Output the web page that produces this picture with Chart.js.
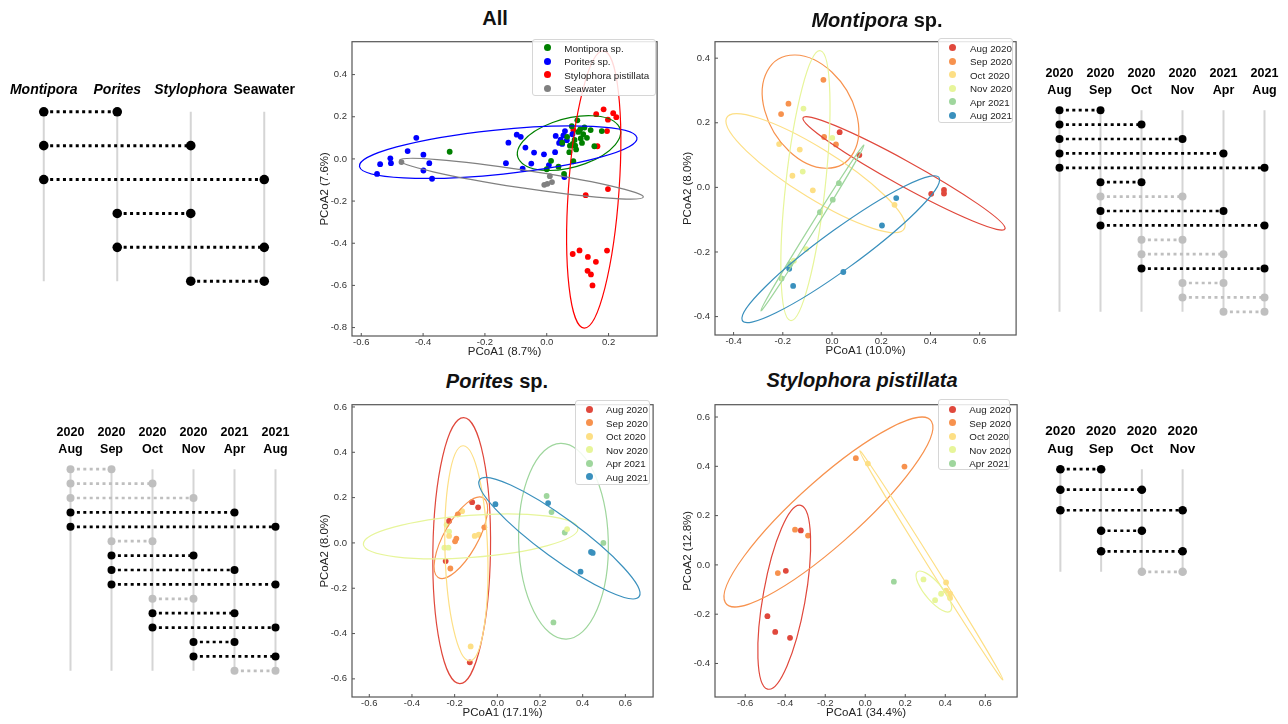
<!DOCTYPE html>
<html>
<head>
<meta charset="utf-8">
<script src="https://cdn.jsdelivr.net/npm/chart.js@4.4.0/dist/chart.umd.min.js"></script>
<style>
  body { margin: 0; background: #fff; width: 1288px; height: 724px; position: relative; overflow: hidden;
         font-family: "Liberation Sans", Arial, sans-serif; }
  canvas { position: absolute; }
  .ttl { position: absolute; font-weight: bold; font-size: 20px; color: #111; transform: translate(-50%, -50%); white-space: nowrap; }
  .leg { position: absolute; border: 1px solid #d6d6d6; border-radius: 3px; background: rgba(255,255,255,0.85); box-sizing: border-box; }
  .leg-dot { position: absolute; width: 7px; height: 7px; border-radius: 50%; }
  .leg-txt { position: absolute; font-size: 9.8px; color: #222; white-space: nowrap; transform: translateY(-50%); }
</style>
</head>
<body>
<canvas id="cAll"></canvas>
<canvas id="cMon"></canvas>
<canvas id="cPor"></canvas>
<canvas id="cSty"></canvas>
<canvas id="pAll"></canvas>
<canvas id="pMon"></canvas>
<canvas id="pPor"></canvas>
<canvas id="pSty"></canvas>

<div class="ttl" style="left:495px;top:18px">All</div>
<div class="ttl" style="left:877px;top:20px"><i>Montipora</i> sp.</div>
<div class="ttl" style="left:497px;top:381px"><i>Porites</i> sp.</div>
<div class="ttl" style="left:862px;top:380px"><i>Stylophora pistillata</i></div>

<script>
const FONT = "'Liberation Sans', Arial, sans-serif";

// ---- "All" PCoA ----
const allGroups = ['Montipora sp.', 'Porites sp.', 'Stylophora pistillata', 'Seawater'];
const allColors = ['#008000', '#0000ff', '#ff0000', '#808080'];
const allMontipora = [[-0.314,0.034],[0.000,-0.049],[0.014,-0.009],[0.038,-0.037],[0.056,-0.071],[0.086,-0.011],
  [0.073,0.032],[0.075,0.063],[0.084,0.071],[0.092,0.063],[0.050,0.077],[0.114,0.076],[0.110,0.097],[0.118,0.117],
  [0.102,0.128],[0.099,0.183],[0.081,0.155],[0.122,0.149],[0.142,0.137],[0.178,0.132],[0.154,0.060],[0.066,0.105],
  [0.095,0.045],[0.130,0.100],[0.108,0.140],[0.090,0.090]];
const allPorites = [[-0.549,-0.071],[-0.539,-0.025],[-0.506,0.003],[-0.504,-0.020],[-0.450,0.037],[-0.422,0.100],
  [-0.399,0.020],[-0.399,-0.055],[-0.380,-0.020],[-0.371,-0.094],[-0.132,-0.020],[-0.124,0.077],[-0.097,0.115],
  [-0.084,0.105],[-0.069,0.054],[-0.078,-0.046],[-0.050,-0.022],[-0.041,0.030],[-0.009,0.022],[0.007,-0.029],
  [0.027,0.032],[0.029,0.109],[0.040,0.076],[0.045,0.091],[0.050,0.071],[0.054,0.112],[0.059,0.132],[0.083,0.117],
  [0.057,-0.086],[0.065,0.089]];
const allStylophora = [[0.160,0.212],[0.184,0.235],[0.215,0.217],[0.225,0.198],[0.198,0.186],[0.195,0.132],
  [0.164,0.060],[0.086,0.137],[0.198,-0.143],[0.126,-0.172],[0.084,-0.451],[0.106,-0.434],[0.133,-0.465],
  [0.159,-0.488],[0.195,-0.435],[0.132,-0.531],[0.143,-0.548],[0.148,-0.600]];
const allSeawater = [[-0.470,-0.015],[0.010,-0.082],[-0.008,-0.123],[0.002,-0.118],[0.017,-0.110]];
// ellipse: centre x, centre y, semi-major, semi-minor, angle (deg)
const allEllipses = [[0.072,0.075,0.180,0.111,28.5],[-0.157,0.032,0.454,0.105,8.7],
  [0.152,-0.145,0.658,0.082,87.3],[-0.082,-0.094,0.404,0.042,-12.5]];
const allXTicks = [-0.6,-0.4,-0.2,0.0,0.2];
const allYTicks = [-0.8,-0.6,-0.4,-0.2,0.0,0.2,0.4];

// ---- sampling months ----
const months = ['Aug 2020','Sep 2020','Oct 2020','Nov 2020','Apr 2021','Aug 2021'];
const monthColors = ['#e0483c','#f7924e','#fddf85','#e7f59a','#9fd69d','#3a90bd'];

const montiporaPts = [
  [[0.031,0.171],[0.111,0.100],[0.403,-0.020],[0.455,-0.008],[0.455,-0.019]],
  [[-0.035,0.333],[-0.177,0.259],[-0.207,0.227],[-0.032,0.156],[0.016,0.133]],
  [[-0.215,0.134],[-0.131,0.117],[-0.161,0.036],[-0.078,-0.009],[0.254,-0.054]],
  [[-0.116,0.244],[0.001,0.153],[-0.119,0.049],[-0.105,-0.191],[-0.155,-0.227]],
  [[0.028,0.013],[0.003,-0.038],[-0.049,-0.077],[-0.170,-0.238],[-0.205,-0.282]],
  [[0.261,-0.033],[0.203,-0.118],[0.046,-0.262],[-0.174,-0.252],[-0.158,-0.305]]];
const montiporaEllipses = [[0.2925,0.0435,0.445,0.040,-22.7],[-0.0875,0.2345,0.216,0.150,-35.7],
  [-0.067,0.044,0.400,0.080,-25.0],[-0.108,0.0055,0.422,0.080,81.7],[-0.0795,-0.1255,0.331,0.010,50.8],
  [0.0355,-0.1915,0.457,0.065,28.8]];
const montiporaXTicks = [-0.4,-0.2,0.0,0.2,0.4,0.6];
const montiporaYTicks = [-0.4,-0.2,0.0,0.2,0.4];

const poritesPts = [
  [[-0.118,0.180],[-0.090,0.157],[-0.226,0.097],[-0.242,-0.080],[-0.129,-0.527]],
  [[-0.185,0.126],[-0.061,0.069],[-0.192,0.019],[-0.198,0.007],[-0.220,-0.113]],
  [[-0.165,0.140],[-0.226,0.031],[-0.106,0.031],[-0.087,0.036],[-0.125,-0.457]],
  [[-0.238,0.080],[-0.226,0.050],[-0.248,-0.021],[-0.229,-0.021],[0.327,0.061]],
  [[0.231,0.207],[0.254,0.136],[0.316,0.046],[0.497,0.000],[0.263,-0.351]],
  [[-0.009,0.171],[0.238,0.176],[0.439,-0.040],[0.447,-0.044],[0.390,-0.127]]];
const poritesEllipses = [[-0.167,-0.034,0.587,0.135,89.1],[-0.171,0.023,0.205,0.078,58.8],
  [-0.145,-0.046,0.475,0.100,91.9],[-0.125,0.029,0.504,0.093,4.0],[0.310,0.0075,0.432,0.210,91.8],
  [0.291,0.021,0.454,0.090,-34.5]];
const poritesXTicks = [-0.6,-0.4,-0.2,0.0,0.2,0.4,0.6];
const poritesYTicks = [-0.6,-0.4,-0.2,0.0,0.2,0.4,0.6];

const stylophoraPts = [
  [[-0.322,0.140],[-0.397,-0.024],[-0.489,-0.208],[-0.450,-0.272],[-0.376,-0.296]],
  [[-0.047,0.433],[0.196,0.399],[-0.351,0.143],[-0.286,0.119],[-0.437,-0.033]],
  [[0.013,0.411],[0.404,-0.071],[0.404,-0.104],[0.424,-0.117],[0.424,-0.134]],
  [[0.291,-0.059],[0.349,-0.143],[0.379,-0.117]],
  [[0.143,-0.068]]];
const stylophoraEllipses = [[-0.405,-0.131,0.382,0.105,77.4],[-0.184,0.2145,0.633,0.140,35.5],
  [0.3305,-0.002,0.586,0.014,-52.4],[0.343,-0.108,0.115,0.040,-42.4],null];
const stylophoraXTicks = [-0.6,-0.4,-0.2,0.0,0.2,0.4,0.6];
const stylophoraYTicks = [-0.4,-0.2,0.0,0.2,0.4,0.6];

// ---- pairwise comparison panels: [from, to, significant] ----
const sideAllLabels = ['Montipora', 'Porites', 'Stylophora', 'Seawater'];
const sideAllPairs = [[0,1,1],[0,2,1],[0,3,1],[1,2,1],[1,3,1],[2,3,1]];
const monthLabels = [['2020','Aug'],['2020','Sep'],['2020','Oct'],['2020','Nov'],['2021','Apr'],['2021','Aug']];
const montiporaPairs = [[0,1,1],[0,2,1],[0,3,1],[0,4,1],[0,5,1],[1,2,1],[1,3,0],[1,4,1],[1,5,1],
  [2,3,0],[2,4,0],[2,5,1],[3,4,0],[3,5,0],[4,5,0]];
const poritesPairs = [[0,1,0],[0,2,0],[0,3,0],[0,4,1],[0,5,1],[1,2,0],[1,3,1],[1,4,1],[1,5,1],
  [2,3,0],[2,4,1],[2,5,1],[3,4,1],[3,5,1],[4,5,0]];
const stylophoraLabels = monthLabels.slice(0, 4);
const stylophoraPairs = [[0,1,1],[0,2,1],[0,3,1],[1,2,1],[1,3,1],[2,3,0]];

// ---------- plugins ----------
const ellipsePlugin = {
  id: 'ellipses',
  afterDatasetsDraw(chart, args, opts) {
    const { ctx, chartArea: ca, scales: { x, y } } = chart;
    const sx = x.getPixelForValue(1) - x.getPixelForValue(0);
    const sy = y.getPixelForValue(0) - y.getPixelForValue(1);
    ctx.save();
    ctx.beginPath();
    ctx.rect(ca.left, ca.top, ca.right - ca.left, ca.bottom - ca.top);
    ctx.clip();
    (opts.list || []).forEach(e => {
      const [cx, cy, a, b, ang, color] = e;
      ctx.save();
      ctx.translate(x.getPixelForValue(cx), y.getPixelForValue(cy));
      ctx.scale(sx, -sy);
      ctx.rotate(ang * Math.PI / 180);
      ctx.beginPath();
      ctx.ellipse(0, 0, a, b, 0, 0, Math.PI * 2);
      ctx.restore();
      ctx.strokeStyle = color;
      ctx.lineWidth = 1.2;
      ctx.stroke();
    });
    ctx.restore();
  }
};

const framePlugin = {
  id: 'frame',
  afterDraw(chart) {
    const { ctx, chartArea: a, scales: { x, y } } = chart;
    ctx.save();
    ctx.strokeStyle = '#555';
    ctx.lineWidth = 1.2;
    ctx.strokeRect(a.left, a.top, a.right - a.left, a.bottom - a.top);
    ctx.lineWidth = 1;
    ctx.beginPath();
    x.ticks.forEach(t => { const p = x.getPixelForValue(t.value); ctx.moveTo(p, a.bottom); ctx.lineTo(p, a.bottom - 3); });
    y.ticks.forEach(t => { const p = y.getPixelForValue(t.value); ctx.moveTo(a.left, p); ctx.lineTo(a.left + 3, p); });
    ctx.stroke();
    ctx.restore();
  }
};

function axis(range, ticks, title, dir, size) {
  return {
    type: 'linear', min: range[0], max: range[1],
    afterBuildTicks: s => { s.ticks = ticks.map(v => ({ value: v })); },
    afterFit: s => { if (dir === 'x') s.height = size; else s.width = size; },
    grid: { display: false, drawTicks: false },
    border: { display: false },
    ticks: { font: { family: FONT, size: 9.5 }, color: '#333', padding: dir === 'x' ? 1 : 5,
             callback: v => v.toFixed(1) },
    title: { display: true, text: title, font: { family: FONT, size: 11.5 }, color: '#222', padding: 0 }
  };
}

function scatterPlot(id, box, xr, yr, xt, yt, xTitle, yTitle, groups, colors, ells) {
  const W = 34, H = 23, PT = 2, PR = 2;
  const cv = document.getElementById(id);
  cv.width = box.r - box.l + W + PR;
  cv.height = box.b - box.t + PT + H;
  cv.style.left = (box.l - W) + 'px';
  cv.style.top = (box.t - PT) + 'px';
  const list = [];
  ells.forEach((e, i) => { if (e) list.push([...e, colors[i]]); });
  new Chart(cv, {
    type: 'scatter',
    data: {
      datasets: groups.map((pts, i) => ({
        data: pts.map(p => ({ x: p[0], y: p[1] })),
        backgroundColor: colors[i], borderColor: colors[i], borderWidth: 0,
        pointRadius: 2.9, pointHoverRadius: 2.9
      }))
    },
    options: {
      responsive: false, animation: false, devicePixelRatio: 1,
      layout: { padding: { top: PT, right: PR, left: 0, bottom: 0 } },
      plugins: { legend: { display: false }, tooltip: { enabled: false }, ellipses: { list } },
      scales: { x: axis(xr, xt, xTitle, 'x', H), y: axis(yr, yt, yTitle, 'y', W) }
    },
    plugins: [ellipsePlugin, framePlugin]
  });
}

function legendBox(g, names, colors) {
  const box = document.createElement('div');
  box.className = 'leg';
  Object.assign(box.style, { left: g.l + 'px', top: g.t + 'px', width: g.w + 'px', height: g.h + 'px' });
  document.body.appendChild(box);
  names.forEach((n, i) => {
    const cy = g.y0 + i * g.dy - g.t;
    const d = document.createElement('div');
    d.className = 'leg-dot';
    Object.assign(d.style, { left: (g.dotX - g.l - 3.5) + 'px', top: (cy - 3.5) + 'px', background: colors[i] });
    const t = document.createElement('div');
    t.className = 'leg-txt';
    t.textContent = n;
    Object.assign(t.style, { left: (g.textX - g.l) + 'px', top: cy + 'px' });
    box.appendChild(d);
    box.appendChild(t);
  });
}

function pairPanel(id, g, labels, pairs, styleFn) {
  const nC = labels.length, nR = pairs.length;
  const H = 50, PL = 14, PB = 8;
  const chartL = g.x0 - g.mx * g.dx, chartR = g.x0 + (nC - 1 + g.mx) * g.dx;
  const chartT = g.y0 - g.my * g.dy, chartB = g.y0 + (nR - 1 + g.my) * g.dy;
  const cv = document.getElementById(id);
  cv.width = Math.round(chartR - chartL + 2 * PL);
  cv.height = Math.round(H + chartB - chartT + PB);
  cv.style.left = (chartL - PL) + 'px';
  cv.style.top = (chartT - H) + 'px';
  const pad = chartT - g.labelY - g.lh / 2;
  const datasets = [];
  labels.forEach((l, c) => datasets.push({
    data: [{ x: c, y: 0 }, { x: c, y: nR - 1 }], showLine: true, borderColor: '#d5d5d5',
    borderWidth: 2, pointRadius: 0, order: 2, clip: false
  }));
  pairs.forEach((p, r) => {
    const col = p[2] ? '#000000' : '#bfbfbf';
    datasets.push({
      data: [{ x: p[0], y: r }, { x: p[1], y: r }], showLine: true, borderColor: col,
      backgroundColor: col, borderWidth: g.lw, borderDash: [3, 3.4], pointRadius: g.r,
      pointHoverRadius: g.r, pointBorderWidth: 0, order: 1, clip: false
    });
  });
  new Chart(cv, {
    type: 'scatter',
    data: { datasets },
    options: {
      responsive: false, animation: false, devicePixelRatio: 1,
      layout: { padding: { left: PL, right: PL, top: 0, bottom: PB } },
      plugins: { legend: { display: false }, tooltip: { enabled: false } },
      scales: {
        x: {
          type: 'linear', position: 'top', min: -g.mx, max: nC - 1 + g.mx,
          afterBuildTicks: s => { s.ticks = labels.map((l, i) => ({ value: i })); },
          afterFit: s => { s.height = H; },
          grid: { display: false, drawTicks: false },
          border: { display: false },
          ticks: {
            color: '#000', padding: pad, maxRotation: 0, autoSkip: false,
            font: c => ({ family: FONT, size: g.size, weight: 'bold', lineHeight: g.lh / g.size,
                          style: styleFn(c.index) }),
            callback: (v, i) => labels[i]
          }
        },
        y: { type: 'linear', display: false, reverse: true, min: -g.my, max: nR - 1 + g.my }
      }
    }
  });
}

// ---------- build ----------
scatterPlot('cAll', { l: 352, t: 33, r: 658, b: 336 }, [-0.630, 0.357], [-0.840, 0.556],
  allXTicks, allYTicks, 'PCoA1 (8.7%)', 'PCoA2 (7.6%)',
  [allMontipora, allPorites, allStylophora, allSeawater], allColors, allEllipses);
scatterPlot('cMon', { l: 715, t: 33, r: 1017, b: 335 }, [-0.4755, 0.748], [-0.457, 0.451],
  montiporaXTicks, montiporaYTicks, 'PCoA1 (10.0%)', 'PCoA2 (8.0%)',
  montiporaPts, monthColors, montiporaEllipses);
scatterPlot('cPor', { l: 352, t: 396, r: 654, b: 697 }, [-0.681, 0.730], [-0.680, 0.610],
  poritesXTicks, poritesYTicks, 'PCoA1 (17.1%)', 'PCoA2 (8.0%)',
  poritesPts, monthColors, poritesEllipses);
scatterPlot('cSty', { l: 715, t: 396, r: 1018, b: 697 }, [-0.751, 0.759], [-0.536, 0.650],
  stylophoraXTicks, stylophoraYTicks, 'PCoA1 (34.4%)', 'PCoA2 (12.8%)',
  stylophoraPts, monthColors, stylophoraEllipses);

legendBox({ l: 532, t: 39, w: 124, h: 57, dotX: 546.7, textX: 563.3, y0: 46.7, dy: 13.5 }, allGroups, allColors);
legendBox({ l: 938, t: 38, w: 75, h: 85, dotX: 951.7, textX: 969, y0: 46.7, dy: 13.5 }, months, monthColors);
legendBox({ l: 575, t: 400, w: 75, h: 85, dotX: 588.3, textX: 605, y0: 408.3, dy: 13.5 }, months, monthColors);
legendBox({ l: 938, t: 399, w: 72, h: 71, dotX: 951.7, textX: 968.3, y0: 408.3, dy: 13.5 }, months.slice(0, 5), monthColors);

pairPanel('pAll', { x0: 44, dx: 73.5, y0: 112, dy: 33.8, mx: 0.5, my: 0.2, labelY: 90, size: 14, lh: 16.8, r: 4.8, lw: 3 },
  sideAllLabels, sideAllPairs, i => (i < 3 ? 'italic' : 'normal'));
pairPanel('pMon', { x0: 1059.3, dx: 40.94, y0: 110, dy: 14.41, mx: 0.5, my: 0.5, labelY: 90.7, size: 12.5, lh: 17.4, r: 4, lw: 2.7 },
  monthLabels, montiporaPairs, () => 'normal');
pairPanel('pPor', { x0: 70, dx: 41, y0: 469.3, dy: 14.38, mx: 0.5, my: 0.5, labelY: 449.3, size: 12.5, lh: 16.6, r: 4, lw: 2.7 },
  monthLabels, poritesPairs, () => 'normal');
pairPanel('pSty', { x0: 1060, dx: 40.77, y0: 469.3, dy: 20.48, mx: 0.5, my: 0.35, labelY: 449, size: 13.5, lh: 17.3, r: 4.3, lw: 2.7 },
  stylophoraLabels, stylophoraPairs, () => 'normal');
</script>
</body>
</html>
